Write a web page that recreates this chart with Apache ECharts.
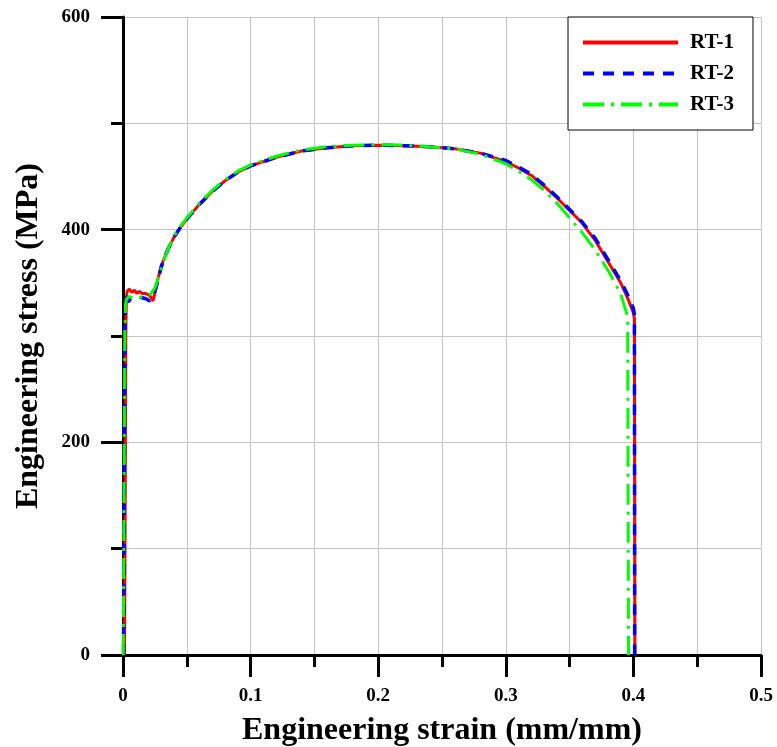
<!DOCTYPE html>
<html>
<head>
<meta charset="utf-8">
<script src="https://cdn.jsdelivr.net/npm/echarts@6/dist/echarts.min.js"></script>
<style>html,body{margin:0;padding:0;background:#fff}#c{width:777px;height:747px}</style>
</head>
<body>
<div id="c"></div>
<script>
// ---- data ----
var seriesNames = ['RT-1', 'RT-2', 'RT-3'];
var rt1Strain = [0.0012, 0.0016, 0.0019, 0.0022, 0.0026, 0.0032, 0.005, 0.007, 0.009, 0.011, 0.013, 0.015, 0.018, 0.021, 0.0235, 0.025, 0.027, 0.03, 0.035, 0.04, 0.045, 0.05, 0.06, 0.07, 0.08, 0.09, 0.1, 0.12, 0.14, 0.16, 0.18, 0.2, 0.22, 0.24, 0.26, 0.28, 0.3, 0.31, 0.32, 0.33, 0.34, 0.35, 0.36, 0.37, 0.38, 0.39, 0.395, 0.4, 0.4008, 0.4012];
var rt1Stress = [0, 100, 200, 300, 335, 342, 344, 341, 343, 340, 342, 340, 340, 338, 333, 340, 352, 366, 381, 393, 402, 410, 424, 436, 446, 454, 460, 468, 474, 477, 479, 479.5, 479, 478, 476, 472, 464, 458, 451, 441, 430, 418, 406, 390, 370, 350, 337, 322, 316, 0];
var rt2Strain = [0.0004, 0.0008, 0.0012, 0.0016, 0.002, 0.003, 0.004, 0.006, 0.009, 0.012, 0.015, 0.018, 0.021, 0.023, 0.026, 0.03, 0.035, 0.04, 0.045, 0.05, 0.06, 0.07, 0.08, 0.09, 0.1, 0.12, 0.14, 0.16, 0.18, 0.2, 0.22, 0.24, 0.26, 0.28, 0.3, 0.31, 0.32, 0.33, 0.34, 0.35, 0.36, 0.37, 0.38, 0.39, 0.395, 0.4, 0.4008, 0.401];
var rt2Stress = [0, 120, 230, 320, 338, 334, 332, 335, 336, 337, 336, 335, 333, 336, 346, 365, 381, 393, 402, 410, 424, 436, 446, 454, 460, 468, 474, 477, 479, 479.5, 479, 478, 476, 472, 465, 459, 452, 442, 431, 419, 407, 392, 372, 352, 340, 326, 320, 0];
var rt3Strain = [0.0002, 0.0008, 0.0014, 0.002, 0.0028, 0.005, 0.008, 0.012, 0.016, 0.02, 0.022, 0.025, 0.028, 0.032, 0.036, 0.04, 0.045, 0.05, 0.06, 0.07, 0.08, 0.09, 0.1, 0.12, 0.14, 0.16, 0.18, 0.2, 0.22, 0.24, 0.26, 0.28, 0.3, 0.31, 0.32, 0.33, 0.34, 0.35, 0.36, 0.37, 0.38, 0.39, 0.3955, 0.3962];
var rt3Stress = [0, 150, 300, 330, 335, 337, 336, 336, 337, 338, 340, 345, 356, 371, 384, 394, 403, 411, 425, 437, 447, 455, 461, 469, 475, 478, 479.5, 480, 479.5, 478, 476, 471, 462, 455, 447, 437, 425, 411, 397, 381, 362, 340, 318, 0];
var xTicks = {min: 0, max: 0.5, interval: 0.1};
var yTicks = {min: 0, max: 600, interval: 200};

function pairs(xs, ys) { return xs.map(function (x, i) { return [x, ys[i]]; }); }

var FONT = 'Liberation Serif';
var grid = '#c4c4c4';
var chart = echarts.init(document.getElementById('c'));
chart.setOption({
  animation: false,
  backgroundColor: '#fff',
  grid: {left: 123, top: 17, right: 16, bottom: 92, containLabel: false, outerBoundsMode: 'none'},
  legend: {
    data: seriesNames,
    orient: 'vertical',
    left: 568, top: 17,
    padding: [15, 19, 15, 13],
    itemWidth: 95, itemHeight: 20, itemGap: 10,
    backgroundColor: '#fff',
    borderColor: '#000', borderWidth: 1,
    itemStyle: {opacity: 0},
    lineStyle: {width: 4},
    textStyle: {fontFamily: FONT, fontWeight: 'bold', fontSize: 21, color: '#000', padding: [0, 0, 0, 7]}
  },
  xAxis: {
    type: 'value', min: xTicks.min, max: xTicks.max, interval: xTicks.interval,
    name: 'Engineering strain (mm/mm)', nameLocation: 'middle', nameGap: 60,
    nameTextStyle: {fontFamily: FONT, fontWeight: 'bold', fontSize: 32, color: '#000'},
    axisLine: {show: true, onZero: false, lineStyle: {color: '#000', width: 3}},
    axisTick: {show: true, inside: false, length: 22, lineStyle: {color: '#000', width: 3}},
    minorTick: {show: true, splitNumber: 2, length: 12, lineStyle: {color: '#000', width: 3}},
    axisLabel: {margin: 32, fontFamily: FONT, fontWeight: 'bold', fontSize: 19, color: '#000',
      formatter: function (v) { return String(+v.toFixed(2)); }},
    splitLine: {show: true, lineStyle: {color: grid, width: 1}},
    minorSplitLine: {show: true, lineStyle: {color: grid, width: 1}}
  },
  yAxis: {
    type: 'value', min: yTicks.min, max: yTicks.max, interval: yTicks.interval,
    name: 'Engineering stress (MPa)', nameLocation: 'middle', nameGap: 78,
    nameTextStyle: {fontFamily: FONT, fontWeight: 'bold', fontSize: 32, color: '#000'},
    axisLine: {show: true, onZero: false, lineStyle: {color: '#000', width: 3}},
    axisTick: {show: true, inside: false, length: 22, lineStyle: {color: '#000', width: 3}},
    minorTick: {show: true, splitNumber: 2, length: 12, lineStyle: {color: '#000', width: 3}},
    axisLabel: {margin: 33, fontFamily: FONT, fontWeight: 'bold', fontSize: 19, color: '#000'},
    splitLine: {show: true, lineStyle: {color: grid, width: 1}},
    minorSplitLine: {show: true, lineStyle: {color: grid, width: 1}}
  },
  series: [
    {name: seriesNames[0], type: 'line', symbol: 'none', data: pairs(rt1Strain, rt1Stress),
      lineStyle: {color: '#ff0000', width: 3, type: 'solid'}, itemStyle: {color: '#ff0000'}},
    {name: seriesNames[1], type: 'line', symbol: 'none', data: pairs(rt2Strain, rt2Stress),
      lineStyle: {color: '#0000ff', width: 3.5, type: [11, 9]}, itemStyle: {color: '#0000ff'}},
    {name: seriesNames[2], type: 'line', symbol: 'none', data: pairs(rt3Strain, rt3Stress),
      lineStyle: {color: '#00ff00', width: 3, type: [21, 7, 3, 7]}, itemStyle: {color: '#00ff00'}}
  ]
});
</script>
</body>
</html>
